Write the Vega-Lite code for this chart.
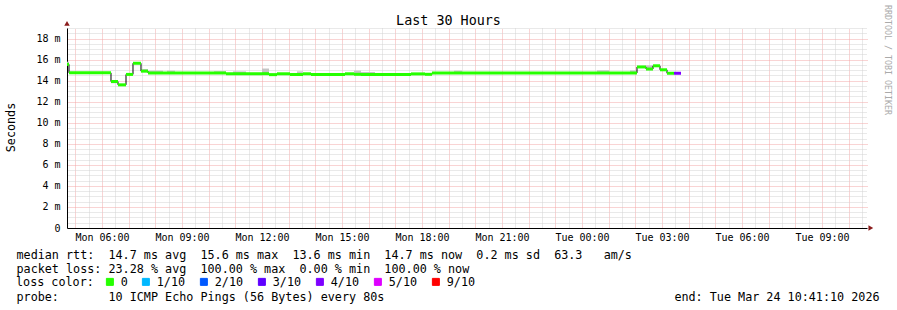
{
  "$schema": "https://vega.github.io/schema/vega-lite/v6.json",
  "width": 800,
  "height": 200,
  "autosize": {"type": "none"},
  "padding": {"left": 67, "top": 28, "right": 30, "bottom": 82},
  "background": "white",
  "config": {"view": {"stroke": null}},
  "data": {"values": [{}]},
  "datasets": {
    "median": [
      {"t0": 4.686, "t1": 4.761, "rtt": 15.55, "loss": "0"},
      {"t0": 4.761, "t1": 6.336, "rtt": 14.74, "loss": "0"},
      {"t0": 6.336, "t1": 6.599, "rtt": 13.92, "loss": "0"},
      {"t0": 6.599, "t1": 6.899, "rtt": 13.6, "loss": "0"},
      {"t0": 6.899, "t1": 7.161, "rtt": 14.59, "loss": "0"},
      {"t0": 7.161, "t1": 7.461, "rtt": 15.65, "loss": "0"},
      {"t0": 7.461, "t1": 7.724, "rtt": 14.9, "loss": "0"},
      {"t0": 7.724, "t1": 10.649, "rtt": 14.73, "loss": "0"},
      {"t0": 10.649, "t1": 11.999, "rtt": 14.66, "loss": "0"},
      {"t0": 11.999, "t1": 12.261, "rtt": 14.66, "loss": "0"},
      {"t0": 12.261, "t1": 12.561, "rtt": 14.57, "loss": "0"},
      {"t0": 12.561, "t1": 13.049, "rtt": 14.65, "loss": "0"},
      {"t0": 13.049, "t1": 13.536, "rtt": 14.58, "loss": "0"},
      {"t0": 13.536, "t1": 13.836, "rtt": 14.65, "loss": "0"},
      {"t0": 13.836, "t1": 15.111, "rtt": 14.58, "loss": "0"},
      {"t0": 15.111, "t1": 15.449, "rtt": 14.65, "loss": "0"},
      {"t0": 15.449, "t1": 15.711, "rtt": 14.6, "loss": "0"},
      {"t0": 15.711, "t1": 17.586, "rtt": 14.58, "loss": "0"},
      {"t0": 17.586, "t1": 18.111, "rtt": 14.64, "loss": "0"},
      {"t0": 18.111, "t1": 18.374, "rtt": 14.6, "loss": "0"},
      {"t0": 18.374, "t1": 26.061, "rtt": 14.73, "loss": "0"},
      {"t0": 26.061, "t1": 26.399, "rtt": 15.3, "loss": "0"},
      {"t0": 26.399, "t1": 26.661, "rtt": 15.1, "loss": "0"},
      {"t0": 26.661, "t1": 26.924, "rtt": 15.41, "loss": "0"},
      {"t0": 26.924, "t1": 27.186, "rtt": 15.03, "loss": "0"},
      {"t0": 27.186, "t1": 27.449, "rtt": 14.7, "loss": "0"},
      {"t0": 27.449, "t1": 27.711, "rtt": 14.7, "loss": "4/10"}
    ],
    "smoke": [
      {"t0": 4.686, "t1": 4.761, "lo": 15.45, "hi": 15.8},
      {"t0": 6.336, "t1": 6.599, "lo": 13.75, "hi": 13.95},
      {"t0": 7.461, "t1": 7.724, "lo": 14.85, "hi": 15.1},
      {"t0": 7.724, "t1": 8.286, "lo": 14.7, "hi": 14.95},
      {"t0": 8.436, "t1": 8.736, "lo": 14.7, "hi": 14.95},
      {"t0": 10.199, "t1": 10.649, "lo": 14.7, "hi": 14.9},
      {"t0": 10.911, "t1": 11.399, "lo": 14.65, "hi": 14.88},
      {"t0": 11.999, "t1": 12.261, "lo": 14.6, "hi": 15.15},
      {"t0": 13.311, "t1": 13.536, "lo": 14.6, "hi": 14.88},
      {"t0": 15.449, "t1": 15.711, "lo": 14.6, "hi": 14.95},
      {"t0": 15.711, "t1": 16.236, "lo": 14.6, "hi": 14.82},
      {"t0": 19.199, "t1": 19.499, "lo": 14.7, "hi": 14.95},
      {"t0": 24.561, "t1": 25.011, "lo": 14.7, "hi": 14.98},
      {"t0": 25.799, "t1": 26.061, "lo": 14.7, "hi": 14.97},
      {"t0": 26.399, "t1": 26.661, "lo": 15.05, "hi": 15.45}
    ]
  },
  "resolve": {"axis": {"x": "independent", "y": "independent"}},
  "layer": [
    {
      "data": {"name": "smoke"},
      "mark": {"type": "rect", "color": "#c4c4c4"},
      "encoding": {
        "x": {"field": "t0", "type": "quantitative",
          "scale": {"domain": [4.6861, 34.6861], "nice": false, "zero": false},
          "axis": {"grid": true, "values": [5.5,6.5,7.5,8.5,9.5,10.5,11.5,12.5,13.5,14.5,15.5,16.5,17.5,18.5,19.5,20.5,21.5,22.5,23.5,24.5,25.5,26.5,27.5,28.5,29.5,30.5,31.5,32.5,33.5,34.5],
            "gridColor": "#d2d2d2", "gridDash": [1, 1], "gridWidth": 1, "labels": false, "ticks": false, "domain": false, "title": null}},
        "x2": {"field": "t1"},
        "y": {"field": "lo", "type": "quantitative",
          "scale": {"domain": [0, 19], "nice": false, "zero": false},
          "axis": {"grid": true, "values": [0.5,1,1.5,2.5,3,3.5,4.5,5,5.5,6.5,7,7.5,8.5,9,9.5,10.5,11,11.5,12.5,13,13.5,14.5,15,15.5,16.5,17,17.5,18.5,19],
            "gridColor": "#d2d2d2", "gridDash": [1, 1], "gridWidth": 1, "labels": false, "ticks": false, "domain": false, "title": null}},
        "y2": {"field": "hi"}
      }
    },
    {
      "data": {"name": "median"},
      "mark": {"type": "line", "interpolate": "step-after", "color": "#000000", "strokeWidth": 1},
      "encoding": {
        "x": {"field": "t0", "type": "quantitative",
          "scale": {"domain": [4.6861, 34.6861], "nice": false, "zero": false},
          "axis": {"grid": true, "values": [5,6,7,8,9,10,11,12,13,14,15,16,17,18,19,20,21,22,23,24,25,26,27,28,29,30,31,32,33,34],
            "gridColor": "#f3a8a8", "gridDash": [1, 1], "gridWidth": 1, "labels": false, "ticks": false, "domain": false, "title": null}},
        "y": {"field": "rtt", "type": "quantitative",
          "scale": {"domain": [0, 19], "nice": false, "zero": false},
          "axis": {"grid": true, "values": [2,4,6,8,10,12,14,16,18],
            "gridColor": "#f3a8a8", "gridDash": [1, 1], "gridWidth": 1, "labels": false, "ticks": false, "domain": false, "title": null}}
      }
    },
    {
      "data": {"name": "median"},
      "mark": {"type": "rule", "strokeWidth": 3, "strokeCap": "butt"},
      "encoding": {
        "x": {"field": "t0", "type": "quantitative",
          "scale": {"domain": [4.6861, 34.6861], "nice": false, "zero": false},
          "axis": {"orient": "bottom", "grid": false, "values": [6,9,12,15,18,21,24,27,30,33],
            "labelExpr": "(datum.value < 24 ? 'Mon ' : 'Tue ') + (datum.value % 24 < 10 ? '0' : '') + (datum.value % 24) + ':00'",
            "labelFont": "DejaVu Sans Mono", "labelFontSize": 10, "labelColor": "#000000", "labelPadding": 4, "labelFlush": false, "labelOverlap": false,
            "ticks": false, "domain": true, "domainColor": "#000000", "domainWidth": 1,
            "title": [
              "median\u00a0rtt:\u00a0\u00a014.7\u00a0ms\u00a0avg\u00a0\u00a015.6\u00a0ms\u00a0max\u00a0\u00a013.6\u00a0ms\u00a0min\u00a0\u00a014.7\u00a0ms\u00a0now\u00a0\u00a00.2\u00a0ms\u00a0sd\u00a0\u00a063.3\u00a0\u00a0\u00a0am/s",
              "packet\u00a0loss:\u00a023.28\u00a0%\u00a0avg\u00a0\u00a0100.00\u00a0%\u00a0max\u00a0\u00a00.00\u00a0%\u00a0min\u00a0\u00a0100.00\u00a0%\u00a0now",
              "\u200b",
              "probe:\u00a0\u00a0\u00a0\u00a0\u00a0\u00a0\u00a010\u00a0ICMP\u00a0Echo\u00a0Pings\u00a0(56\u00a0Bytes)\u00a0every\u00a080s\u00a0\u00a0\u00a0\u00a0\u00a0\u00a0\u00a0\u00a0\u00a0\u00a0\u00a0\u00a0\u00a0\u00a0\u00a0\u00a0\u00a0\u00a0\u00a0\u00a0\u00a0\u00a0\u00a0\u00a0\u00a0\u00a0\u00a0\u00a0\u00a0\u00a0\u00a0\u00a0\u00a0\u00a0\u00a0\u00a0\u00a0\u00a0\u00a0\u00a0\u00a0end:\u00a0Tue\u00a0Mar\u00a024\u00a010:41:10\u00a02026"
            ],
            "titleFont": "DejaVu Sans Mono", "titleFontSize": 11.75, "titleFontWeight": "normal", "titleColor": "#000000",
            "titleAlign": "left", "titleAnchor": "start", "titleBaseline": "alphabetic", "titleX": -51, "titleY": 30, "titleLineHeight": 14}},
        "x2": {"field": "t1"},
        "y": {"field": "rtt", "type": "quantitative",
          "scale": {"domain": [0, 19], "nice": false, "zero": false},
          "axis": {"orient": "left", "grid": false, "values": [0,2,4,6,8,10,12,14,16,18],
            "labelExpr": "datum.value == 0 ? '0' : datum.value + ' m'",
            "labelFont": "DejaVu Sans Mono", "labelFontSize": 10, "labelColor": "#000000", "labelPadding": 7, "labelFlush": false, "labelOverlap": false, "labelBaseline": "middle",
            "ticks": false, "domain": true, "domainColor": "#000000", "domainWidth": 1,
            "title": "Seconds", "titleFont": "DejaVu Sans Mono", "titleFontSize": 11.75, "titleFontWeight": "normal", "titleColor": "#000000",
            "titleAngle": -90, "titleAlign": "center", "titleBaseline": "middle", "titleX": -56.5, "titleY": 99}},
        "color": {"field": "loss", "type": "nominal",
          "scale": {"domain": ["0", "1/10", "2/10", "3/10", "4/10", "5/10", "9/10"],
            "range": ["#26ff00", "#00b8ff", "#0059ff", "#5e00ff", "#7e00ff", "#dd00ff", "#ff0000"]},
          "legend": {"orient": "none", "legendX": -51, "legendY": 248, "direction": "horizontal", "columns": 7, "gridAlign": "none", "columnPadding": 12,
            "title": "loss color:", "titleOrient": "left", "titlePadding": 10, "titleFont": "DejaVu Sans Mono", "titleFontSize": 11.75, "titleFontWeight": "normal", "titleColor": "#000000", "titleBaseline": "middle", "titleAnchor": "middle",
            "labelFont": "DejaVu Sans Mono", "labelFontSize": 11.75, "labelColor": "#000000", "labelOffset": 5,
            "symbolType": "square", "symbolSize": 49, "symbolStrokeWidth": 1, "symbolStrokeColor": "#000000", "padding": 0,
            "encode": {"symbols": {"update": {"fill": {"scale": "color", "field": "value"}, "fillOpacity": {"value": 1}, "stroke": {"value": "#000000"}, "strokeWidth": {"value": 1}, "shape": {"value": "square"}}}}}}
      }
    },
    {
      "mark": {"type": "point", "shape": "triangle-right", "filled": true, "size": 30, "color": "#8b1c1c", "opacity": 1},
      "encoding": {
        "x": {"datum": 34.83, "type": "quantitative",
          "scale": {"domain": [4.6861, 34.6861], "nice": false, "zero": false},
          "axis": {"orient": "top", "grid": false, "labels": false, "ticks": false, "domain": false,
            "title": "Last 30 Hours", "titleFont": "DejaVu Sans Mono", "titleFontSize": 13.4, "titleFontWeight": "normal", "titleColor": "#000000",
            "titleAlign": "center", "titleAnchor": null, "titleBaseline": "alphabetic", "titleX": 381, "titleY": -4}},
        "y": {"datum": 0, "type": "quantitative",
          "scale": {"domain": [0, 19], "nice": false, "zero": false},
          "axis": {"orient": "right", "grid": false, "labels": false, "ticks": false, "domain": false,
            "title": "RRDTOOL / TOBI OETIKER", "titleFont": "DejaVu Sans Mono", "titleFontSize": 8.3, "titleFontWeight": "normal", "titleColor": "#aaaaaa",
            "titleAngle": 90, "titleAlign": "center", "titleBaseline": "middle", "titleX": 19, "titleY": 31.5}}
      }
    },
    {
      "mark": {"type": "point", "shape": "triangle-up", "filled": true, "size": 30, "color": "#8b1c1c", "opacity": 1},
      "encoding": {
        "x": {"datum": 4.6861, "type": "quantitative",
          "scale": {"domain": [4.6861, 34.6861], "nice": false, "zero": false}, "axis": null},
        "y": {"datum": 19.43, "type": "quantitative",
          "scale": {"domain": [0, 19], "nice": false, "zero": false}, "axis": null}
      }
    }
  ]
}
